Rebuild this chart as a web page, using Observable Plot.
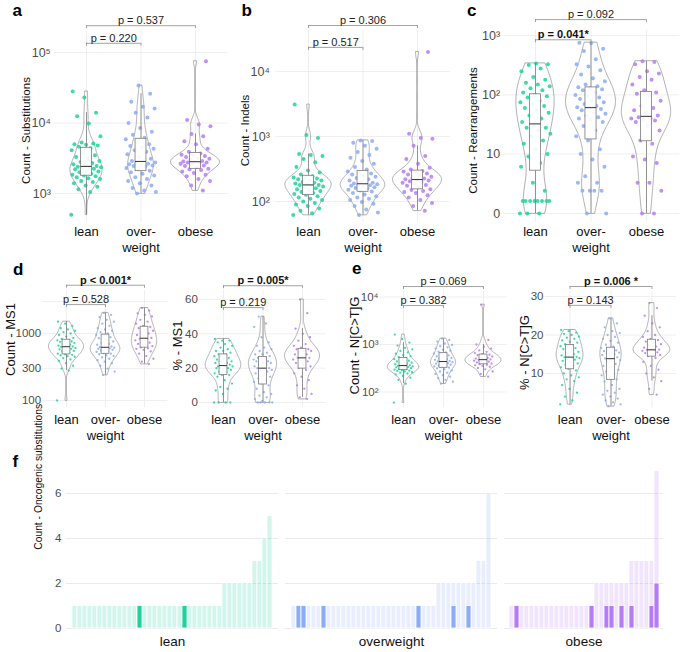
<!DOCTYPE html>
<html><head><meta charset="utf-8">
<script src="https://cdn.jsdelivr.net/npm/d3@7"></script>
<script src="https://cdn.jsdelivr.net/npm/@observablehq/plot@0.6"></script>
<style>
body{margin:0;background:#fff;}
#fig{position:relative;width:685px;height:652px;font-family:"Liberation Sans",Arial,sans-serif;overflow:hidden;background:#fff;}
.lab{position:absolute;font-weight:bold;font-size:17px;line-height:1;font-family:"Liberation Sans",Arial,sans-serif;}
</style></head><body><div id="fig"></div>
<script>
// ---------- categories & colours ----------
const groupNames = ["lean", "over-\nweight", "obese"];
const facetNames = ["lean", "overweight", "obese"];
const groupColors = ["#1dd39b", "#8cacf6", "#b47cf5"];

// ---------- a: substitutions ----------
const subsLean = [500,1050,1150,1250,1300,1400,1450,1500,1600,1650,1700,1750,1800,1850,1900,2000,2050,2100,2200,2250,2300,2350,2400,2400,2450,2500,2600,2700,2800,2900,3100,3300,3500,3800,4100,4400,4600,4800,4900,5000,5100,5300,6500,9800,12500,14000,23000,28000];
const subsOver = [1000,1050,1100,1200,1300,1400,1500,1600,1700,1800,1900,2000,2100,2200,2300,2400,2450,2500,2550,2600,2650,2700,2750,2800,2900,3100,3300,3600,3900,4100,4300,4500,4700,5000,5500,5900,6200,6800,7500,8500,10000,12000,14000,16000,17000,20000,26000,34000];
const subsObese = [1100,1300,1500,1600,1750,1850,1950,2050,2150,2200,2250,2350,2450,2500,2600,2650,2700,2750,2750,2800,2850,2900,3000,3100,3200,3300,3400,3500,3550,3700,3900,4300,5000,5500,6500,7000,9000,9500,11000,75000];
// ---------- b: indels ----------
const indelLean = [62,66,72,78,85,90,95,100,105,110,115,120,127,130,135,140,145,150,155,160,165,170,175,180,180,185,190,195,200,210,215,220,225,230,234,245,260,280,300,340,400,450,500,520,540,950,1050,3100];
const indelOver = [62,68,75,85,92,98,105,110,115,120,128,135,143,148,152,158,162,166,170,174,178,182,185,185,190,195,200,210,220,230,240,250,260,270,280,290,310,340,380,420,470,520,580,650,720,800,850,870];
const indelObese = [72,85,95,105,115,125,135,140,145,150,155,165,175,180,190,195,200,205,210,215,220,225,230,240,250,260,270,280,290,295,310,330,380,450,500,720,920,950,1100,20000];
// ---------- c: rearrangements ----------
const rearrLean = [0,0,0,1,1,1,1,1,1,1,1,2,3,6,7,9,10,12,15,17,20,22,25,28,28,30,35,40,45,50,55,60,65,70,75,80,90,95,100,110,120,130,140,150,160,180,200,250,280,320,330,340];
const rearrOver = [0,0,2,2,2,2,3,3,4,6,8,10,12,17,20,25,30,35,38,40,42,45,48,50,55,58,60,62,65,70,75,80,85,90,95,100,110,120,125,130,135,140,150,170,190,220,260,300,330,400,550,600,750,760];
const rearrObese = [0,0,2,3,3,7,8,9,15,17,25,30,35,37,38,40,40,42,45,50,55,60,65,80,100,105,110,120,150,180,200,230,250,330,360,370];
// ---------- d: MS1 ----------
const ms1CountLean = [100,280,300,330,360,390,410,430,450,460,470,480,490,500,520,540,550,560,580,590,600,610,620,630,640,650,660,680,700,720,730,750,760,780,790,800,830,860,900,950,1000,1050,1100,1150,1200,1300,1400,1500];
const ms1CountOver = [240,270,300,330,360,380,400,420,440,460,470,490,500,510,530,540,560,570,580,590,600,610,615,620,625,640,660,680,700,730,760,800,850,880,920,950,1000,1050,1100,1150,1200,1300,1400,1500,1600,1750,1900,2030];
const ms1CountObese = [350,380,420,460,500,540,570,590,600,620,650,680,700,730,760,790,820,840,860,900,950,1000,1050,1100,1150,1200,1250,1300,1400,1500,1600,1800,1900,2000,2200,2400];
const ms1PctLean = [0,0,0,0,5,7,8,9,11,13,15,16,16,17,18,18,19,19,20,20,20,21,21,21,22,22,23,23,24,24,25,25,26,27,27,28,28,29,30,30,31,32,33,34,35,36,36,37];
const ms1PctOver = [0,0,0,0,0,1,2,3,4,5,6,8,10,11,12,13,14,15,16,17,18,19,19,20,20,20,21,21,22,22,23,23,24,24,25,25,26,26,27,28,28,29,30,31,32,33,35,38,44,46,50];
const ms1PctObese = [2,3,5,8,10,13,15,17,19,20,21,22,23,24,24,25,25,26,26,27,28,28,29,30,30,31,31,32,33,34,36,38,40,43,52,60];
// ---------- e: N[C>T]G ----------
const ctgCountLean = [60,150,180,200,220,235,245,255,262,270,276,283,290,296,302,310,318,325,330,335,340,345,350,355,365,375,385,395,405,415,425,440,455,470,490,515,540,570,600,640,680,730,790,850,950,1100,1300,1620];
const ctgCountOver = [150,165,180,195,210,225,240,255,270,285,300,315,325,335,345,355,365,375,385,395,405,415,425,435,440,450,460,475,490,505,520,540,560,590,620,650,680,710,740,780,820,870,920,980,1050,1150,1250,1330];
const ctgCountObese = [210,240,270,300,320,340,355,365,375,385,395,410,420,435,445,455,465,475,485,495,505,520,540,560,580,600,610,625,660,700,750,820,900,1000,1250,6900];
const ctgPctLean = [2,3,4,5,6,7,8,8.5,9,9.5,10,10.8,11.2,11.6,12,12.3,12.6,13,13.3,13.6,13.8,14,14.1,14.2,14.3,14.5,14.7,15,15.3,15.6,16,16.3,16.6,16.9,17.1,17.3,17.6,18,18.3,18.6,19,19.3,19.6,20,20.3,20.6,21,21.3];
const ctgPctOver = [1.5,2,2.5,3,3.5,4,4.5,5,5.5,6,7,7.9,8.5,9,9.5,10,10.5,11,11.5,12,12.5,13,13.5,13.8,13.9,14.2,14.5,14.8,15,15.2,15.4,15.6,15.8,16,16.3,16.6,17,17.5,18,18.5,19,19.5,20,20.5,21,22,23,24.3];
const ctgPctObese = [4.5,6,8,9,10,11,12,13,14,14.5,14.8,15,15.3,15.5,15.7,15.9,16,16.1,16.2,16.4,16.7,17,17.3,17.6,18,18.3,18.7,19,19.5,20,21,22,23,25,27,28.3];

// ---------- tick values & labels ----------
const ticksA = [1e3, 1e4, 1e5], labelsA = ["10³", "10⁴", "10⁵"];
const ticksB = [1e2, 1e3, 1e4], labelsB = ["10²", "10³", "10⁴"];
const ticksC = [0, 10, 100, 1000], labelsC = ["0", "10", "10²", "10³"];
const ticksDL = [100, 300, 1000, 3000], labelsDL = ["100", "300", "1000", ""];
const ticksDR = [0, 20, 40, 60], labelsDR = ["0", "20", "40", "60"];
const ticksEL = [1e2, 1e3, 1e4], labelsEL = ["10²", "10³", "10⁴"];
const ticksER = [10, 20, 30], labelsER = ["10", "20", "30"];
const ticksF = [0, 2, 4, 6];

// ---------- p-value brackets (group from, group to, value, label, bold) ----------
const pA = [[1, 2, 135000, "p = 0.220", false], [1, 3, 240000, "p = 0.537", false]];
const pB = [[1, 2, 23500, "p = 0.517", false], [1, 3, 51000, "p = 0.306", false]];
const pC = [[1, 2, 850, "p = 0.041*", true], [1, 3, 1860, "p = 0.092", false]];
const pDL = [[1, 2, 2700, "p = 0.528", false], [1, 3, 5250, "p < 0.001*", true]];
const pDR = [[1, 2, 55.3, "p = 0.219", false], [1, 3, 68, "p = 0.005*", true]];
const pEL = [[1, 2, 6600, "p = 0.382", false], [1, 3, 16600, "p = 0.069", false]];
const pER = [[1, 2, 27.7, "p = 0.143", false], [1, 3, 32.6, "p = 0.006 *", true]];

// ---------- f: oncogenic substitutions per sample ----------
const fLeanCounts = [1,1,1,1,1,1,1,1,1,1,1,1,1,1,1,1,1,1,1,1,1,1,1,1,1,1,1,1,1,1,2,2,2,2,2,2,3,3,4,5];
const fLeanDark   = [0,0,0,0,0,0,0,0,0,0,0,0,0,1,0,0,0,0,0,0,0,0,1,0,0,0,0,0,0,0,0,0,0,0,0,0,0,0,0,0];
const fOverCounts = [1,1,1,1,1,1,1,1,1,1,1,1,1,1,1,1,1,1,1,1,1,1,1,1,1,1,1,1,1,2,2,2,2,2,2,2,2,3,3,6];
const fOverDark   = [0,1,1,0,0,0,1,0,0,0,0,0,0,0,0,0,0,0,0,0,0,0,0,0,0,1,0,0,0,0,0,0,1,0,0,1,0,0,0,0];
const fObeseCounts = [1,1,1,1,1,1,1,1,1,1,1,1,1,1,1,1,1,2,2,2,2,2,2,2,3,3,3,3,3,7];
const fObeseDark   = [0,1,0,0,0,0,0,0,0,0,0,0,0,0,0,0,1,0,0,1,1,0,1,0,1,0,0,0,1,2];

// ================= helpers =================
const fig = document.getElementById("fig");
const FONT = "'Liberation Sans', Arial, sans-serif";
const log10 = v => Math.log10(v);
const asinhT = v => Math.asinh(v / 2) / Math.LN10;
const ident = v => v;

function kde(vals) {
  const v = vals.slice().sort(d3.ascending);
  const n = v.length;
  const sd = d3.deviation(v);
  const iqr = d3.quantile(v, 0.75) - d3.quantile(v, 0.25);
  let lo = Math.min(sd, iqr / 1.34);
  if (!(lo > 0)) lo = sd;
  const bw = 0.9 * lo * Math.pow(n, -0.2);
  const mn = v[0], mx = v[n - 1];
  const out = [];
  const m = 150;
  for (let k = 0; k <= m; k++) {
    const t = mn + (mx - mn) * k / m;
    let s = 0;
    for (const x of v) { const z = (t - x) / bw; s += Math.exp(-0.5 * z * z); }
    out.push({t, d: s / (n * bw * Math.sqrt(2 * Math.PI))});
  }
  return out;
}
function boxStats(vals) {
  const s = vals.slice().sort(d3.ascending);
  const q1 = d3.quantile(s, 0.25), q2 = d3.quantile(s, 0.5), q3 = d3.quantile(s, 0.75);
  const iqr = q3 - q1;
  const lo = d3.min(s.filter(x => x >= q1 - 1.5 * iqr));
  const hi = d3.max(s.filter(x => x <= q3 + 1.5 * iqr));
  return {q1, q2, q3, lo, hi};
}
function jit(i, g) { return (((i * 0.618034 + g * 0.37) % 1) * 2 - 1); }

function violinPanel(c) {
  const tf = c.tf;
  const ml = c.x0 - c.left, mr = c.left + c.width - c.x1;
  const mt = c.yTop - c.top, mb = c.top + c.height - c.yBot;
  const refT = tf(c.refVal);
  const tTop = refT + (c.refPx - c.yTop) / c.ppu;
  const tBot = refT - (c.yBot - c.refPx) / c.ppu;
  const xppu = (c.x1 - c.x0) / 3.2;
  const groups = c.groups.map(a => a.map(tf));
  const dens = groups.map(kde);
  const maxD = d3.max(dens.flat(), d => d.d);
  const violin = [];
  dens.forEach((ds, g) => ds.forEach(p => violin.push({g, t: p.t, x1: g + 1 - 0.45 * p.d / maxD, x2: g + 1 + 0.45 * p.d / maxD})));
  const dots = [];
  groups.forEach((arr, g) => arr.forEach((t, i) => dots.push({g, t, x: g + 1 + jit(i, g) * c.jitter, col: groupColors[g]})));
  const boxes = groups.map((arr, g) => ({g, ...boxStats(arr)}));
  const br = c.brackets.map(b => ({from: b[0], to: b[1], t: tf(b[2]), label: b[3], bold: b[4]}));
  const brEnds = br.flatMap(b => [{x: b.from, t: b.t}, {x: b.to, t: b.t}]);
  const tickLen = 3 / c.ppu;
  const labMap = new Map(c.ticks.map((v, i) => [tf(v), c.labels[i]]));
  const tc = refT + (c.refPx - c.titleY) / c.ppu;
  const tx = 0.4 - (c.x0 - c.titleX) / xppu;
  const svg = Plot.plot({
    width: c.width, height: c.height,
    marginLeft: ml, marginRight: mr, marginTop: mt, marginBottom: mb,
    x: {domain: [0.4, 3.6]},
    y: {domain: [tBot, tTop]},
    color: {type: "identity"},
    style: {position: "absolute", left: c.left + "px", top: c.top + "px", fontFamily: FONT, fontSize: "11px", overflow: "visible", background: "transparent"},
    marks: [
      Plot.gridY(c.ticks.map(tf), {stroke: "#ebebeb", strokeOpacity: 1, strokeWidth: 0.8}),
      Plot.gridX([1, 2, 3], {stroke: "#ebebeb", strokeOpacity: 1, strokeWidth: 0.8}),
      Plot.areaX(violin, {y: "t", x1: "x1", x2: "x2", z: "g", fill: "none", stroke: "#8c8c8c", strokeWidth: 0.7}),
      Plot.dot(dots, {x: "x", y: "t", r: c.r, fill: "col", fillOpacity: 0.85, stroke: null}),
      Plot.ruleX(boxes, {x: d => d.g + 1, y1: "q3", y2: "hi", stroke: "#7a7a7a", strokeWidth: 0.8}),
      Plot.ruleX(boxes, {x: d => d.g + 1, y1: "lo", y2: "q1", stroke: "#7a7a7a", strokeWidth: 0.8}),
      Plot.rect(boxes, {x1: d => d.g + 0.9, x2: d => d.g + 1.1, y1: "q1", y2: "q3", fill: "white", fillOpacity: 0.9, stroke: "#7a7a7a", strokeWidth: 0.8}),
      Plot.ruleY(boxes, {y: "q2", x1: d => d.g + 0.9, x2: d => d.g + 1.1, stroke: "#333", strokeWidth: 1}),
      Plot.ruleY(br, {y: "t", x1: "from", x2: "to", stroke: "#8c8c8c", strokeWidth: 0.8}),
      Plot.ruleX(brEnds, {x: "x", y1: "t", y2: d => d.t - tickLen, stroke: "#8c8c8c", strokeWidth: 0.8}),
      Plot.text(br.filter(b => !b.bold), {x: d => (d.from + d.to) / 2, y: "t", text: "label", dy: -1.5, lineAnchor: "bottom", fontSize: 11, fill: "#222"}),
      Plot.text(br.filter(b => b.bold), {x: d => (d.from + d.to) / 2, y: "t", text: "label", dy: -1.5, lineAnchor: "bottom", fontSize: 11, fontWeight: "bold", fill: "#111"}),
      Plot.axisY(c.ticks.map(tf), {tickSize: 0, tickPadding: c.tickPad, tickFormat: d => labMap.get(d), label: null, fontSize: c.tickSize, color: "#4d4d4d"}),
      Plot.axisX([1, 2, 3], {tickSize: 0, tickPadding: c.xPad, tickFormat: d => groupNames[d - 1], label: null, fontSize: 13, lineHeight: 1.3, color: "#111"}),
      Plot.text([c.title], {x: [tx], y: [tc], text: d => d, rotate: -90, fontSize: c.titleSize, fill: "#111"})
    ]
  });
  fig.appendChild(svg);
}

function fPanel(c) {
  const ml = c.x0 - c.left, mr = c.left + c.width - c.x1;
  const mt = c.yTop - c.top, mb = c.top + c.height - c.yBot;
  const tTop = (c.refPx0 - c.yTop) / c.ppu;
  const tBot = -(c.yBot - c.refPx0) / c.ppu;
  const bars = c.counts.map((n, i) => ({i, n, d: c.dark[i]}));
  const marks = [
    Plot.gridY(ticksF, {stroke: "#e6e6e6", strokeOpacity: 1, strokeWidth: 0.9}),
    Plot.rectY(bars, {x: "i", y1: 0, y2: "n", fill: c.color, fillOpacity: 0.2, stroke: "white", strokeWidth: 0.8}),
    Plot.rectY(bars.filter(b => b.d > 0), {x: "i", y1: 0, y2: "d", fill: c.color, stroke: "white", strokeWidth: 0.8}),
    Plot.text([c.name], {frameAnchor: "bottom", dy: 11, lineAnchor: "middle", text: d => d, fontSize: 13.5, fill: "#111"})
  ];
  if (c.axis) {
    marks.push(Plot.axisY(ticksF, {tickSize: 0, tickPadding: 5, label: null, fontSize: 11.5, color: "#4d4d4d"}));
    marks.push(Plot.text(["Count - Oncogenic substitutions"], {frameAnchor: "left", dx: -(c.x0 - 38), rotate: -90, text: d => d, fontSize: 10.3, fill: "#111"}));
  }
  const svg = Plot.plot({
    width: c.width, height: c.height,
    marginLeft: ml, marginRight: mr, marginTop: mt, marginBottom: mb,
    x: {type: "band", domain: d3.range(c.counts.length), padding: 0, axis: null},
    y: {domain: [tBot, tTop], axis: null},
    style: {position: "absolute", left: c.left + "px", top: c.top + "px", fontFamily: FONT, fontSize: "11px", overflow: "visible", background: "transparent"},
    marks
  });
  fig.appendChild(svg);
}

// ================= top row =================
const rowTop = {top: 0, height: 252, yTop: 30, yBot: 222, titleY: 130, titleSize: 11.5, tickSize: 12.5, r: 2, jitter: 0.28, xPad: 1};
violinPanel({...rowTop, left: 0, width: 230, x0: 53.3, x1: 227.7, tf: log10, refVal: 1000, refPx: 193, ppu: 70.5,
  ticks: ticksA, labels: labelsA, tickPad: 3, titleX: 26, title: "Count - Substitutions",
  groups: [subsLean, subsOver, subsObese], brackets: pA});
violinPanel({...rowTop, left: 230, width: 225, x0: 275.3, x1: 449.7, tf: log10, refVal: 100, refPx: 201, ppu: 65,
  ticks: ticksB, labels: labelsB, tickPad: 6, titleX: 245, title: "Count - Indels",
  groups: [indelLean, indelOver, indelObese], brackets: pB});
violinPanel({...rowTop, left: 455, width: 230, x0: 501.7, x1: 679.3, tf: asinhT, refVal: 0, refPx: 213, ppu: 59.3,
  ticks: ticksC, labels: labelsC, tickPad: 2, titleX: 473, title: "Count - Rearrangements",
  groups: [rearrLean, rearrOver, rearrObese], brackets: pC});

// ================= middle row =================
const rowMid = {top: 262, height: 190, yTop: 290, yBot: 407, titleSize: 13, tickSize: 11.5, r: 1.15, jitter: 0.24, xPad: 4, tickPad: 2};
violinPanel({...rowMid, left: 0, width: 172, x0: 42.6, x1: 167.4, tf: log10, refVal: 1000, refPx: 333, ppu: 67,
  ticks: ticksDL, labels: labelsDL, titleX: 10, titleY: 339, title: "Count - MS1",
  groups: [ms1CountLean, ms1CountOver, ms1CountObese], brackets: pDL});
violinPanel({...rowMid, left: 172, width: 168, x0: 199.3, x1: 325.7, tf: ident, refVal: 0, refPx: 402, ppu: 1.717,
  ticks: ticksDR, labels: labelsDR, titleX: 177, titleY: 345, title: "% - MS1",
  groups: [ms1PctLean, ms1PctOver, ms1PctObese], brackets: pDR});
violinPanel({...rowMid, left: 340, width: 172, x0: 379, x1: 507, tf: log10, refVal: 1000, refPx: 344, ppu: 47.5,
  ticks: ticksEL, labels: labelsEL, tickPad: 1, titleX: 354, titleY: 345, title: "Count - N[C>T]G",
  groups: [ctgCountLean, ctgCountOver, ctgCountObese], brackets: pEL});
violinPanel({...rowMid, left: 512, width: 173, x0: 545, x1: 676, tf: ident, refVal: 10, refPx: 373, ppu: 3.85,
  ticks: ticksER, labels: labelsER, titleX: 524, titleY: 352, title: "% - N[C>T]G",
  groups: [ctgPctLean, ctgPctOver, ctgPctObese], brackets: pER});

// ================= f =================
const fBase = {top: 450, height: 202, yTop: 468.25, yBot: 630.25, refPx0: 628, ppu: 22.5};
fPanel({...fBase, left: 0, width: 280, x0: 66, x1: 278, counts: fLeanCounts, dark: fLeanDark, color: groupColors[0], name: facetNames[0], axis: true});
fPanel({...fBase, left: 280, width: 220, x0: 285, x1: 497, counts: fOverCounts, dark: fOverDark, color: groupColors[1], name: facetNames[1], axis: false});
fPanel({...fBase, left: 500, width: 185, x0: 504, x1: 663, counts: fObeseCounts, dark: fObeseDark, color: groupColors[2], name: facetNames[2], axis: false});

// ================= panel letters =================
[["a", 12.5, 1.5], ["b", 241.5, 2], ["c", 467, 1.5], ["d", 13, 261], ["e", 352, 259.5], ["f", 12.5, 453]].forEach(([t, x, y]) => {
  const d = document.createElement("div");
  d.className = "lab"; d.textContent = t;
  d.style.left = x + "px"; d.style.top = y + "px";
  fig.appendChild(d);
});
</script></body></html>
